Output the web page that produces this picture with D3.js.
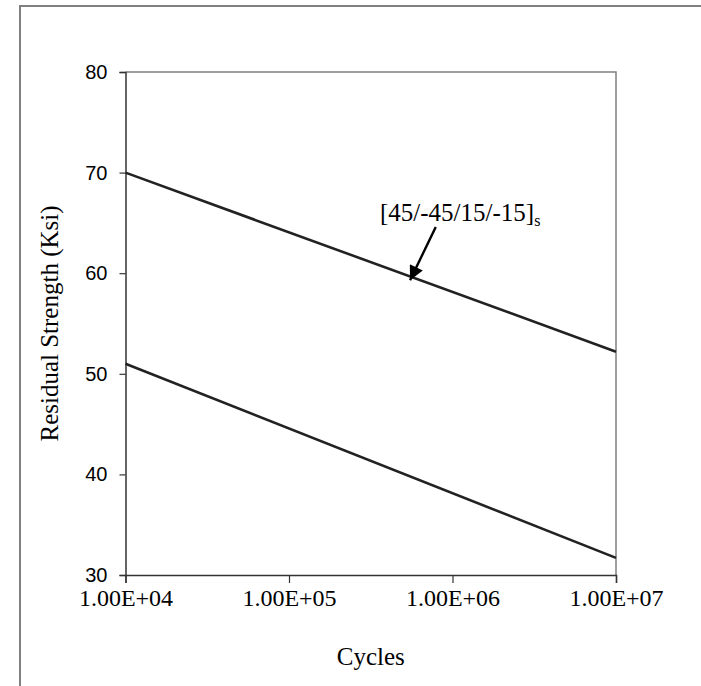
<!DOCTYPE html>
<html>
<head>
<meta charset="utf-8">
<script src="https://cdn.jsdelivr.net/npm/d3@7"></script>
<style>
  body { margin: 0; background: #fff; }
  svg { display: block; }
</style>
</head>
<body>
<svg id="chart"></svg>
<script>
// values
const cycles = [1e4, 1e7]
const upperStrength = [70, 52.2]
const lowerStrength = [51, 31.7]
const xTicks = [1e4, 1e5, 1e6, 1e7]
const yTicks = [30, 40, 50, 60, 70, 80]
const labelText = "[45/-45/15/-15]"
const labelSub = "s"
const arrowFrom = [7.9e5, 64.6]
const arrowTo = [5.5e5, 59.3]

const width = 701
const height = 686
const plotLeft = 125.5, plotRight = 616, plotTop = 72, plotBottom = 575

const svg = d3.select("#chart")
  .attr("width", width)
  .attr("height", height)

// outer frame (only left and top edges show)
svg.append("path")
  .attr("d", `M20,${height + 5} L20,6 L${width + 5},6`)
  .attr("fill", "none")
  .attr("stroke", "#808080")
  .attr("stroke-width", 2)

const x = d3.scaleLog().domain([1e4, 1e7]).range([plotLeft, plotRight])
const y = d3.scaleLinear().domain([30, 80]).range([plotBottom, plotTop])

// top and right edges of plot area
svg.append("path")
  .attr("d", `M${plotLeft},${plotTop} L${plotRight},${plotTop} L${plotRight},${plotBottom}`)
  .attr("fill", "none")
  .attr("stroke", "#808080")
  .attr("stroke-width", 1.5)

const yAxis = svg.append("g")
  .attr("transform", `translate(${plotLeft},0)`)
  .call(d3.axisLeft(y).tickValues(yTicks).tickSize(6).tickPadding(12).tickFormat(d3.format("d")))
yAxis.select(".domain").attr("stroke", "#333").attr("stroke-width", 1.5)
yAxis.selectAll(".tick line").attr("stroke", "#333").attr("stroke-width", 1.2)
yAxis.selectAll("text")
  .attr("fill", "#000")
  .style("font-family", "'Liberation Sans', Arial, sans-serif")
  .style("font-size", "20px")

const xAxis = svg.append("g")
  .attr("transform", `translate(0,${plotBottom})`)
  .call(d3.axisBottom(x).tickValues(xTicks).tickSize(8).tickPadding(6)
    .tickFormat(d => "1.00E+" + String(Math.round(Math.log10(d))).padStart(2, "0")))
xAxis.select(".domain").attr("stroke", "#333").attr("stroke-width", 1.5)
xAxis.selectAll(".tick line").attr("stroke", "#333").attr("stroke-width", 1.2)
xAxis.selectAll("text")
  .attr("fill", "#000")
  .style("font-family", "'Liberation Serif', 'Times New Roman', serif")
  .style("font-size", "24px")

// data lines
const line = d3.line()
  .x(d => x(d[0]))
  .y(d => y(d[1]))

;[upperStrength, lowerStrength].forEach(vals => {
  svg.append("path")
    .datum(cycles.map((c, i) => [c, vals[i]]))
    .attr("d", line)
    .attr("fill", "none")
    .attr("stroke", "#222")
    .attr("stroke-width", 2.6)
})

// axis titles
svg.append("text")
  .attr("x", (plotLeft + plotRight) / 2)
  .attr("y", 665)
  .attr("text-anchor", "middle")
  .style("font-family", "'Liberation Serif', 'Times New Roman', serif")
  .style("font-size", "25px")
  .text("Cycles")

svg.append("text")
  .attr("transform", `translate(58,${(plotTop + plotBottom) / 2}) rotate(-90)`)
  .attr("text-anchor", "middle")
  .style("font-family", "'Liberation Serif', 'Times New Roman', serif")
  .style("font-size", "25px")
  .text("Residual Strength (Ksi)")

// annotation
const lab = svg.append("text")
  .attr("x", 380)
  .attr("y", 221)
  .style("font-family", "'Liberation Serif', 'Times New Roman', serif")
  .style("font-size", "25px")
lab.append("tspan").text(labelText)
lab.append("tspan").attr("dy", 5).style("font-size", "16px").text(labelSub)

svg.append("defs").append("marker")
  .attr("id", "head")
  .attr("viewBox", "0 0 10 10")
  .attr("refX", 10).attr("refY", 5)
  .attr("markerWidth", 7).attr("markerHeight", 6)
  .attr("markerUnits", "strokeWidth")
  .attr("orient", "auto")
  .append("path")
  .attr("d", "M0,0 L10,5 L0,10 z")
  .attr("fill", "#000")

svg.append("line")
  .attr("x1", x(arrowFrom[0])).attr("y1", y(arrowFrom[1]))
  .attr("x2", x(arrowTo[0])).attr("y2", y(arrowTo[1]))
  .attr("stroke", "#000")
  .attr("stroke-width", 2.4)
  .attr("marker-end", "url(#head)")
</script>
</body>
</html>
